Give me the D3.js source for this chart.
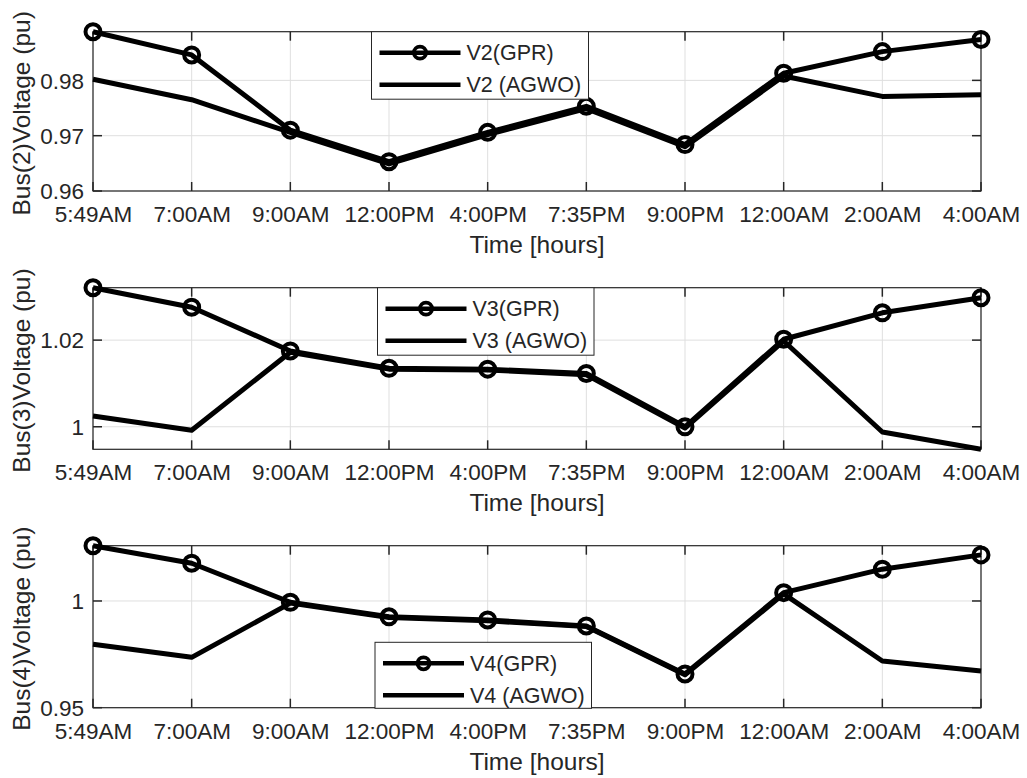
<!DOCTYPE html>
<html>
<head>
<meta charset="utf-8">
<script src="https://cdn.jsdelivr.net/npm/d3@7"></script>
<style>
  html, body { margin: 0; padding: 0; background: #fff; }
  svg { display: block; }
  text { font-family: "Liberation Sans", Arial, Helvetica, sans-serif; fill: #262626; }
</style>
</head>
<body>
<svg id="chart" width="1027" height="778"></svg>
<script>
// ---------- data ----------
const categories = ["5:49AM", "7:00AM", "9:00AM", "12:00PM", "4:00PM", "7:35PM", "9:00PM", "12:00AM", "2:00AM", "4:00AM"];

const v2GPR  = [0.9888, 0.9846, 0.9710, 0.9653, 0.9706, 0.9753, 0.9684, 0.9813, 0.9852, 0.9874];
const v2AGWO = [0.9802, 0.9765, 0.9706, 0.9649, 0.9702, 0.9749, 0.9680, 0.9808, 0.9771, 0.9774];

const v3GPR  = [1.0321, 1.0276, 1.0175, 1.0135, 1.0133, 1.0123, 1.0000, 1.0202, 1.0263, 1.0298];
const v3AGWO = [1.0025, 0.9992, 1.0172, 1.0133, 1.0131, 1.0120, 0.9997, 1.0198, 0.9988, 0.9948];

const v4GPR  = [1.0259, 1.0177, 0.9994, 0.9926, 0.9911, 0.9883, 0.9658, 1.0039, 1.0149, 1.0216];
const v4AGWO = [0.9797, 0.9736, 0.9990, 0.9923, 0.9907, 0.9880, 0.9654, 1.0033, 0.9719, 0.9672];

const yLimits = [[0.96, 0.9888], [0.9948, 1.0321], [0.95, 1.0259]];
const yTickValues = [[0.96, 0.97, 0.98], [1, 1.02], [0.95, 1]];
const yLabels = ["Bus(2)Voltage (pu)", "Bus(3)Voltage (pu)", "Bus(4)Voltage (pu)"];
const xLabel = "Time [hours]";
const legendNames = [["V2(GPR)", "V2 (AGWO)"], ["V3(GPR)", "V3 (AGWO)"], ["V4(GPR)", "V4 (AGWO)"]];

// ---------- layout ----------
const svg = d3.select("#chart");
const left = 93, right = 981;
const panelTop = [31.7, 287.7, 545.7];
const panelBottom = [191, 449.3, 707.7];
const legendBox = [
  {x: 371.5, y: 31.7, w: 217, h: 67.5},
  {x: 377.5, y: 287.7, w: 216.5, h: 67.5},
  {x: 375, y: 642.3, w: 216.5, h: 66}
];
const ink = "#262626";
const gridCol = "#dfdfdf";
const tickLen = 9;

const panels = [
  {gpr: v2GPR, agwo: v2AGWO},
  {gpr: v3GPR, agwo: v3AGWO},
  {gpr: v4GPR, agwo: v4AGWO}
];

const x = d3.scalePoint().domain(categories).range([left, right]).padding(0);

panels.forEach((p, i) => {
  const top = panelTop[i], bottom = panelBottom[i];
  const y = d3.scaleLinear().domain(yLimits[i]).range([bottom, top]);
  const g = svg.append("g");

  // grid
  g.selectAll(".gx").data(categories).enter().append("line")
    .attr("x1", d => x(d)).attr("x2", d => x(d))
    .attr("y1", top).attr("y2", bottom)
    .attr("stroke", gridCol).attr("stroke-width", 1);
  g.selectAll(".gy").data(yTickValues[i]).enter().append("line")
    .attr("x1", left).attr("x2", right)
    .attr("y1", d => y(d)).attr("y2", d => y(d))
    .attr("stroke", gridCol).attr("stroke-width", 1);

  // box
  g.append("rect").attr("x", left).attr("y", top)
    .attr("width", right - left).attr("height", bottom - top)
    .attr("fill", "none").attr("stroke", ink).attr("stroke-width", 1.2);

  // ticks (inward, on all four sides)
  categories.forEach(c => {
    g.append("line").attr("x1", x(c)).attr("x2", x(c)).attr("y1", bottom).attr("y2", bottom - tickLen)
      .attr("stroke", ink).attr("stroke-width", 1.5);
    g.append("line").attr("x1", x(c)).attr("x2", x(c)).attr("y1", top).attr("y2", top + tickLen)
      .attr("stroke", ink).attr("stroke-width", 1.5);
  });
  yTickValues[i].forEach(v => {
    g.append("line").attr("x1", left).attr("x2", left + tickLen).attr("y1", y(v)).attr("y2", y(v))
      .attr("stroke", ink).attr("stroke-width", 1.5);
    g.append("line").attr("x1", right).attr("x2", right - tickLen).attr("y1", y(v)).attr("y2", y(v))
      .attr("stroke", ink).attr("stroke-width", 1.5);
  });

  // x axis labels via d3 axis
  const xAxis = g.append("g").attr("transform", `translate(0,${bottom})`)
    .call(d3.axisBottom(x).tickSize(0).tickPadding(0));
  xAxis.select(".domain").remove();
  xAxis.selectAll("text")
    .attr("y", 31).attr("dy", 0)
    .style("font-size", "22.5px").style("fill", ink)
    .style("font-family", "'Liberation Sans', Arial, sans-serif");

  // y axis labels
  const yAxis = g.append("g").attr("transform", `translate(${left},0)`)
    .call(d3.axisLeft(y).tickValues(yTickValues[i]).tickSize(0).tickPadding(9).tickFormat(d => String(d)));
  yAxis.select(".domain").remove();
  yAxis.selectAll("text")
    .attr("dy", "0.35em")
    .style("font-size", "22.5px").style("fill", ink)
    .style("font-family", "'Liberation Sans', Arial, sans-serif");

  // axis titles
  g.append("text").attr("x", (left + right) / 2).attr("y", bottom + 62)
    .attr("text-anchor", "middle").style("font-size", "24.5px").text(xLabel);
  g.append("text")
    .attr("transform", `translate(30,${(top + bottom) / 2 + 2}) rotate(-90)`)
    .attr("text-anchor", "middle").style("font-size", "24.5px").text(yLabels[i]);

  // lines
  const line = d3.line().x((d, k) => x(categories[k])).y(d => y(d));
  g.append("path").datum(p.gpr).attr("d", line)
    .attr("fill", "none").attr("stroke", "#000").attr("stroke-width", 5).attr("stroke-linejoin", "round");
  g.append("path").datum(p.agwo).attr("d", line)
    .attr("fill", "none").attr("stroke", "#000").attr("stroke-width", 5).attr("stroke-linejoin", "round");
  g.selectAll(".mk").data(p.gpr).enter().append("circle")
    .attr("cx", (d, k) => x(categories[k])).attr("cy", d => y(d))
    .attr("r", 7.5).attr("fill", "none").attr("stroke", "#000").attr("stroke-width", 4);

  // legend
  const lb = legendBox[i];
  const lg = g.append("g");
  lg.append("rect").attr("x", lb.x).attr("y", lb.y).attr("width", lb.w).attr("height", lb.h)
    .attr("fill", "#fff").attr("stroke", ink).attr("stroke-width", 1);
  const rowY = [lb.y + 21, lb.y + 53];
  const lx1 = lb.x + 8, lx2 = lb.x + 89;
  lg.append("line").attr("x1", lx1).attr("x2", lx2).attr("y1", rowY[0]).attr("y2", rowY[0])
    .attr("stroke", "#000").attr("stroke-width", 4.5);
  lg.append("circle").attr("cx", (lx1 + lx2) / 2).attr("cy", rowY[0]).attr("r", 6)
    .attr("fill", "none").attr("stroke", "#000").attr("stroke-width", 3.8);
  lg.append("line").attr("x1", lx1).attr("x2", lx2).attr("y1", rowY[1]).attr("y2", rowY[1])
    .attr("stroke", "#000").attr("stroke-width", 4.5);
  legendNames[i].forEach((n, k) => {
    lg.append("text").attr("x", lb.x + 95).attr("y", rowY[k]).attr("dy", "0.35em")
      .style("font-size", "21.5px").text(n);
  });
});
</script>
</body>
</html>
